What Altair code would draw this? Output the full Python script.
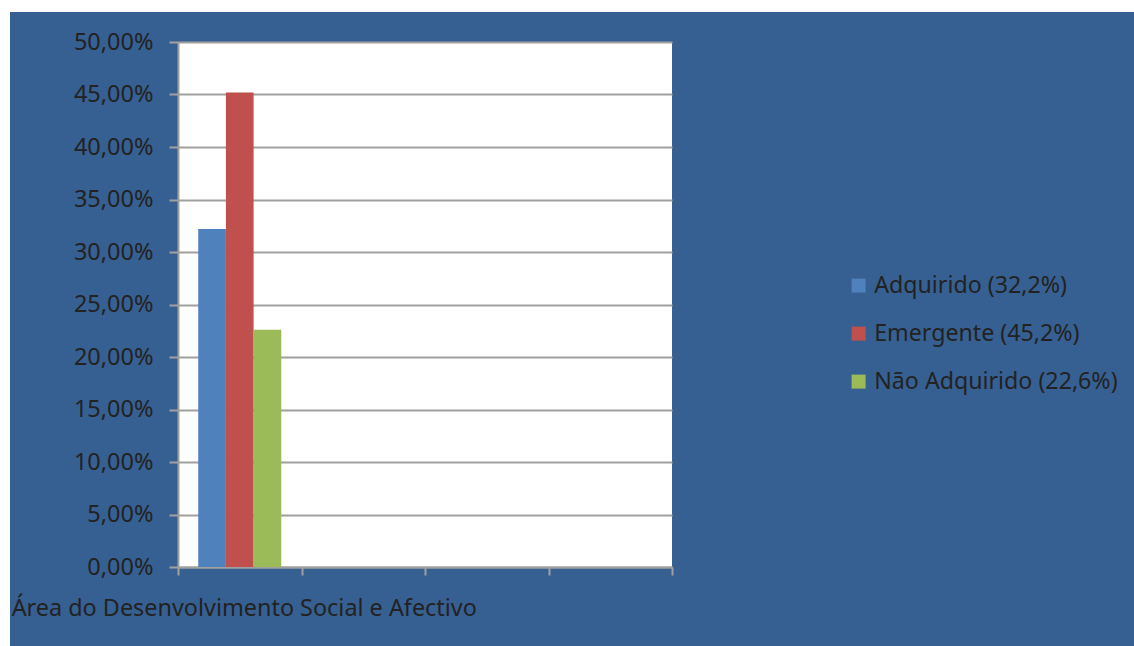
import altair as alt
import pandas as pd

# ---- data ----
categories = ["Área do Desenvolvimento Social e Afectivo", "c2", "c3", "c4"]
series = ["Adquirido", "Emergente", "Não Adquirido"]
values = [0.322, 0.452, 0.226]
colors = ["#4F81BD", "#C0504D", "#9BBB59"]
y_ticks = [0.0, 0.05, 0.10, 0.15, 0.20, 0.25, 0.30, 0.35, 0.40, 0.45, 0.50]

legend_labels = [f"{s} ({v * 100:.1f}%)".replace(".", ",") for s, v in zip(series, values)]

df = pd.DataFrame({
    "categoria": [categories[0]] * len(series),
    "serie": legend_labels,
    "valor": values,
})

FONT = "Noto Sans"
TEXT = "#222222"
GRID = "#A0A0A0"
BG = "#366092"

bars = alt.Chart(df).mark_bar().encode(
    x=alt.X(
        "categoria:N",
        sort=categories,
        scale=alt.Scale(domain=categories, paddingInner=0, paddingOuter=0),
        axis=alt.Axis(
            title=None,
            labelAngle=0,
            labelExpr=f"datum.value == '{categories[0]}' ? datum.value : ''",
            labelOverlap=False,
            labelLimit=0,
            labelFontSize=23.4,
            labelFont=FONT,
            labelColor=TEXT,
            labelPadding=22,
            labelOffset=4,
            tickBand="extent",
            tickSize=8,
            tickColor=GRID,
            tickWidth=2,
            domainColor=GRID,
            domainWidth=2,
            grid=False,
        ),
    ),
    xOffset=alt.XOffset(
        "serie:N",
        sort=legend_labels,
        scale=alt.Scale(domain=legend_labels, paddingInner=0, paddingOuter=0.73),
    ),
    y=alt.Y(
        "valor:Q",
        scale=alt.Scale(domain=[0, 0.5], nice=False, zero=True),
        axis=alt.Axis(
            title=None,
            values=y_ticks,
            labelExpr="replace(format(datum.value, '.2%'), '.', ',')",
            labelFontSize=23.5,
            labelFont=FONT,
            labelColor=TEXT,
            labelPadding=16,
            tickSize=9,
            tickColor=GRID,
            tickWidth=2,
            domainColor=GRID,
            domainWidth=2,
            grid=True,
            gridColor=GRID,
            gridWidth=2,
        ),
    ),
    color=alt.Color(
        "serie:N",
        sort=legend_labels,
        scale=alt.Scale(domain=legend_labels, range=colors),
        legend=alt.Legend(
            title=None,
            orient="none",
            legendX=669,
            legendY=232,
            symbolType="square",
            symbolSize=196,
            symbolStrokeWidth=0,
            symbolOpacity=1,
            labelFontSize=23.2,
            labelFont=FONT,
            labelColor=TEXT,
            labelOffset=4,
            rowPadding=24,
            padding=0,
            labelLimit=0,
        ),
    ),
)

deco = pd.DataFrame({"d": [0]})
top_strip = alt.Chart(deco).mark_rect(color="white").encode(
    x=alt.value(-178), x2=alt.value(956), y=alt.value(-42), y2=alt.value(-30)
)
left_strip = alt.Chart(deco).mark_rect(color="white").encode(
    x=alt.value(-178), x2=alt.value(-168), y=alt.value(-42), y2=alt.value(604)
)

chart = (
    alt.layer(top_strip, left_strip, bars)
    .properties(
        width=494,
        height=525,
        padding={"left": 178, "top": 42, "right": 462, "bottom": 79},
        autosize=alt.AutoSizeParams(type="none"),
        background=BG,
    )
    .configure_view(fill="white", strokeWidth=0)
)

chart.save("out.html", embed_options={"renderer": "svg", "actions": False})
